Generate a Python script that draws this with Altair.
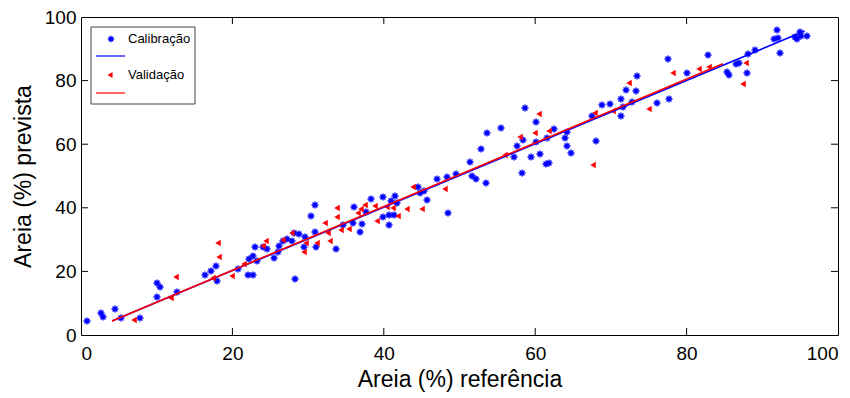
import altair as alt
import pandas as pd

# ---- data ----
cal_x = [0.79, 2.64, 2.91, 4.49, 5.28, 7.79, 10.04, 10.44, 10.04, 12.68, 16.38, 17.17, 17.83, 17.97,
         20.74, 22.06, 22.72, 22.19, 22.72, 23.25, 22.99, 24.04, 24.57, 25.50, 26.02, 26.16, 26.68,
         27.21, 27.87, 28.14, 28.80, 28.27, 29.59, 29.46, 31.04, 30.38, 30.91, 30.91, 33.69, 34.61,
         35.93, 36.06, 37.12, 36.86, 37.65, 38.31, 39.89, 39.89, 40.69, 40.69, 40.95, 41.48, 41.35,
         41.74, 44.52, 44.78, 45.31, 45.71, 47.03, 48.35, 49.54, 48.48, 51.39, 51.65, 52.18, 53.50,
         52.84, 53.63, 55.48, 58.65, 60.11, 58.39, 57.60, 57.20, 58.26, 59.45, 60.63, 60.11, 61.43,
         61.82, 61.56, 62.48, 63.94, 64.20, 64.73, 64.20, 67.50, 68.03, 68.82, 69.88, 71.33, 71.33,
         71.60, 72.00, 72.79, 73.32, 73.45, 76.09, 77.54, 77.68, 80.05, 82.83, 85.34, 85.60, 86.53,
         86.92, 88.11, 87.98, 89.04, 91.55, 91.94, 92.07, 92.34, 94.32, 94.58, 95.11, 95.90, 94.98]
cal_y = [4.40, 6.92, 5.66, 8.18, 5.35, 5.35, 16.35, 15.09, 11.95, 13.52, 18.87, 20.13, 21.70, 16.98,
         20.75, 18.87, 18.87, 23.90, 24.84, 23.27, 27.67, 27.67, 27.04, 24.21, 26.10, 27.99, 29.56,
         30.19, 29.56, 32.08, 31.76, 17.61, 30.82, 27.67, 27.67, 37.42, 40.88, 32.39, 27.04, 34.59,
         35.22, 40.25, 34.91, 32.39, 38.68, 42.77, 43.40, 37.11, 34.59, 37.74, 42.14, 43.71, 37.74,
         41.51, 46.54, 44.65, 45.28, 42.45, 49.06, 49.69, 50.63, 38.36, 54.40, 50.00, 49.06, 47.80,
         58.49, 63.52, 65.09, 71.38, 66.98, 61.32, 59.43, 55.97, 50.94, 55.97, 56.92, 60.69, 53.77,
         54.09, 61.95, 64.78, 61.95, 59.43, 57.23, 63.84, 68.87, 61.01, 72.33, 72.64, 68.87, 74.21,
         71.70, 77.04, 73.27, 76.73, 81.45, 72.96, 86.79, 74.21, 82.39, 88.05, 82.70, 81.76, 85.22,
         85.53, 88.36, 82.39, 89.62, 93.08, 95.91, 93.40, 88.68, 93.71, 93.08, 94.03, 94.03, 95.28]

val_x = [7.00, 12.55, 11.89, 17.44, 18.10, 18.23, 19.95, 21.53, 24.04, 24.44, 26.68, 27.87, 29.72,
         29.46, 31.18, 32.23, 32.63, 32.89, 33.82, 33.82, 34.35, 35.40, 36.59, 36.99, 37.52, 38.84,
         39.10, 40.42, 41.22, 41.88, 43.06, 45.05, 43.86, 48.08, 56.01, 57.99, 59.97, 60.50, 61.82,
         67.90, 67.64, 70.28, 72.39, 75.03, 78.20, 81.64, 82.96, 87.85, 87.45]
val_y = [4.72, 18.24, 11.64, 17.92, 28.93, 24.53, 18.55, 22.33, 27.99, 29.56, 29.87, 32.08, 28.93,
         26.10, 28.93, 35.22, 32.08, 29.56, 39.94, 37.11, 33.02, 33.33, 38.36, 39.62, 40.88, 40.57,
         35.85, 40.25, 39.94, 37.42, 39.62, 39.62, 46.54, 45.91, 56.60, 62.26, 63.52, 69.50, 64.15,
         69.81, 53.46, 70.44, 79.25, 71.07, 82.39, 83.65, 84.28, 85.53, 78.93]

cal_fit_x = [4.1, 95.6]
cal_fit_y = [4.4, 95.6]
val_fit_x = [4.1, 84.8]
val_fit_y = [4.4, 85.3]

tick_values = [0, 20, 40, 60, 80, 100]
inner_ticks = [20, 40, 60, 80]
legend_labels = ["Calibração", "Validação"]

BLUE = "#0000ff"
RED = "#ff0000"
FONT = "Liberation Sans"
W, H = 757, 318
TL = 7
ASTERISK = "M-1,0L1,0M0,-1L0,1M-0.7,-0.7L0.7,0.7M-0.7,0.7L0.7,-0.7"

cal = pd.DataFrame({"x": cal_x, "y": cal_y})
val = pd.DataFrame({"x": val_x, "y": val_y})
cal_fit = pd.DataFrame({"x": cal_fit_x, "y": cal_fit_y})
val_fit = pd.DataFrame({"x": val_fit_x, "y": val_fit_y})
ticks = pd.DataFrame({"t": inner_ticks})
one = pd.DataFrame({"a": [0]})

xs = alt.Scale(domain=[0, 100], nice=False, zero=False)
ys = alt.Scale(domain=[0, 100], nice=False, zero=False)

xax = alt.Axis(values=tick_values, ticks=False, tickSize=0, domain=False, grid=False,
               labelFontSize=19, labelPadding=9, labelFont=FONT, labelColor="black",
               title="Areia (%) referência", titleFontSize=23, titleFont=FONT,
               titleFontWeight="normal", titleColor="black", titlePadding=5)
yax = alt.Axis(values=tick_values, ticks=False, tickSize=0, domain=False, grid=False,
               labelFontSize=19, labelPadding=5, labelFont=FONT, labelColor="black",
               title="Areia (%) prevista", titleFontSize=23, titleFont=FONT,
               titleFontWeight="normal", titleColor="black", titlePadding=9)

base_cal = alt.Chart(cal).mark_point(shape=ASTERISK, filled=False, color=BLUE, size=50,
                                     strokeWidth=1.4, opacity=1).encode(
    x=alt.X("x:Q", scale=xs, axis=xax),
    y=alt.Y("y:Q", scale=ys, axis=yax),
)
base_val = alt.Chart(val).mark_point(shape="triangle-left", filled=True, color=RED, size=40,
                                     opacity=1).encode(
    x=alt.X("x:Q", scale=xs), y=alt.Y("y:Q", scale=ys))
line_cal = alt.Chart(cal_fit).mark_line(color=BLUE, strokeWidth=1.6).encode(
    x=alt.X("x:Q", scale=xs), y=alt.Y("y:Q", scale=ys))
line_val = alt.Chart(val_fit).mark_line(color=RED, strokeWidth=1.6).encode(
    x=alt.X("x:Q", scale=xs), y=alt.Y("y:Q", scale=ys))

# inward ticks on all four sides
tb = alt.Chart(ticks).mark_rule(color="black", strokeWidth=1).encode(
    x=alt.X("t:Q", scale=xs), y=alt.value(H), y2=alt.value(H - TL))
tt = alt.Chart(ticks).mark_rule(color="black", strokeWidth=1).encode(
    x=alt.X("t:Q", scale=xs), y=alt.value(0), y2=alt.value(TL))
tl = alt.Chart(ticks).mark_rule(color="black", strokeWidth=1).encode(
    y=alt.Y("t:Q", scale=ys), x=alt.value(0), x2=alt.value(TL))
tr = alt.Chart(ticks).mark_rule(color="black", strokeWidth=1).encode(
    y=alt.Y("t:Q", scale=ys), x=alt.value(W), x2=alt.value(W - TL))

# legend box
lg_box = alt.Chart(one).mark_rect(fill="white", stroke="#444444", strokeWidth=1).encode(
    x=alt.value(10), x2=alt.value(114), y=alt.value(10), y2=alt.value(87))
lg_sym1 = alt.Chart(one).mark_point(shape=ASTERISK, filled=False, color=BLUE, size=40,
                                    strokeWidth=1.3, opacity=1).encode(
    x=alt.value(30), y=alt.value(22))
lg_line1 = alt.Chart(one).mark_rule(color=BLUE, strokeWidth=1.2).encode(
    x=alt.value(15), x2=alt.value(44), y=alt.value(39))
lg_sym2 = alt.Chart(one).mark_point(shape="triangle-left", filled=True, color=RED, size=35,
                                    opacity=1).encode(x=alt.value(29), y=alt.value(58))
lg_line2 = alt.Chart(one).mark_rule(color=RED, strokeWidth=1.2).encode(
    x=alt.value(15), x2=alt.value(44), y=alt.value(76))
lg_txt1 = alt.Chart(one).mark_text(text=legend_labels[0], align="left", baseline="middle",
                                   font=FONT, fontSize=13, color="black").encode(
    x=alt.value(47), y=alt.value(22))
lg_txt2 = alt.Chart(one).mark_text(text=legend_labels[1], align="left", baseline="middle",
                                   font=FONT, fontSize=13, color="black").encode(
    x=alt.value(47), y=alt.value(58))

chart = alt.layer(
    base_cal, base_val, line_cal, line_val, tb, tt, tl, tr,
    lg_box, lg_sym1, lg_line1, lg_sym2, lg_line2, lg_txt1, lg_txt2,
).properties(
    width=W, height=H,
    autosize=alt.AutoSizeParams(type="none"),
    padding={"left": 81, "top": 17, "right": 12, "bottom": 63},
    background="white",
).configure_view(stroke="black", strokeWidth=1)

chart.save("out.html", embed_options={"renderer": "svg", "actions": False})
